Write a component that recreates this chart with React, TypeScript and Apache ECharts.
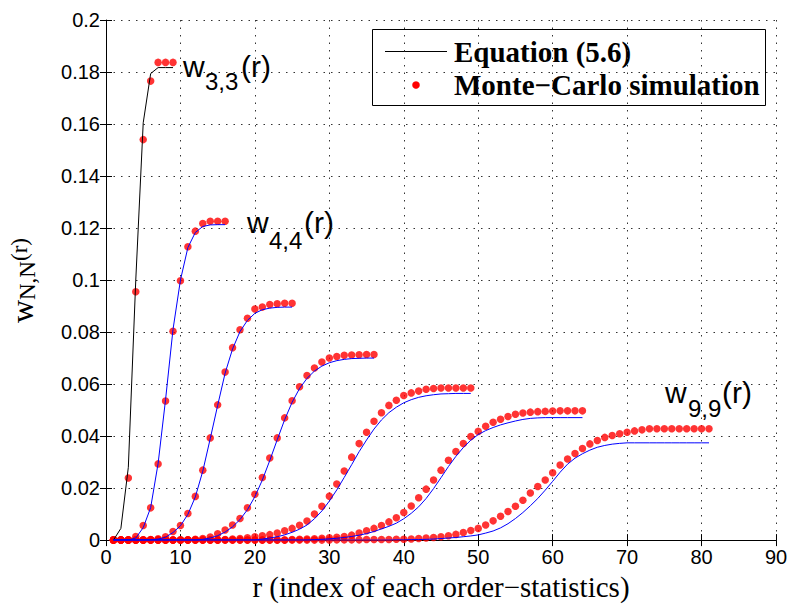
import React, { useEffect, useRef } from "react";
import * as echarts from "echarts";

// ---- data: theoretical curves (Equation 5.6) and Monte-Carlo simulation, r = 1..N^2 ----
const eq3 = [0, 0.0045, 0.028, 0.1, 0.1605, 0.1794, 0.1817, 0.1817, 0.1817];
const sim3 = [0, 0, 0.0239, 0.0955, 0.154, 0.1765, 0.1837, 0.1837, 0.1837];

const eq4 = [0, 0, 0, 0.0008, 0.0048, 0.0125, 0.0295, 0.054, 0.081, 0.1, 0.1125, 0.1183, 0.1206, 0.1212, 0.1213, 0.1213];
const sim4 = [0, 0, 0, 0.0014, 0.0056, 0.0124, 0.0293, 0.0535, 0.0803, 0.0997, 0.1128, 0.1188, 0.1217, 0.1226, 0.1226, 0.1226];

const eq5 = [0, 0, 0, 0, 0, 0.0001, 0.0004, 0.0011, 0.0029, 0.0055, 0.0099, 0.0166, 0.0265, 0.039, 0.0518, 0.0642, 0.0735, 0.0802, 0.0845, 0.0872, 0.0886, 0.0892, 0.0895, 0.0896, 0.0896];
const sim5 = [0, 0, 0, 0, 0, 0.0002, 0.0005, 0.0013, 0.0033, 0.0056, 0.0102, 0.0168, 0.0269, 0.0393, 0.052, 0.0646, 0.074, 0.0809, 0.0853, 0.0889, 0.0896, 0.0906, 0.0909, 0.0911, 0.0911];

const eq6 = [0, 0, 0, 0, 0, 0, 0, 0, 0, 0, 0, 0, 0.0003, 0.0008, 0.0017, 0.0031, 0.0051, 0.0079, 0.0117, 0.0167, 0.0231, 0.0306, 0.0386, 0.0463, 0.053, 0.0583, 0.0622, 0.065, 0.0669, 0.0682, 0.069, 0.0695, 0.0698, 0.0699, 0.07, 0.07];
const sim6 = [0, 0, 0, 0, 0, 0, 0, 0, 0, 0, 0.0001, 0.0003, 0.0006, 0.0012, 0.0024, 0.0039, 0.0058, 0.0083, 0.0124, 0.0176, 0.0241, 0.0316, 0.0393, 0.047, 0.0536, 0.059, 0.0633, 0.0662, 0.0685, 0.07, 0.0706, 0.0711, 0.0712, 0.0713, 0.0714, 0.0714];

const eq7 = [0, 0, 0, 0, 0, 0, 0, 0, 0, 0, 0, 0, 0, 0, 0, 0, 0, 0, 0, 0, 0.0004, 0.0008, 0.0013, 0.002, 0.003, 0.0042, 0.0058, 0.0082, 0.0112, 0.015, 0.0193, 0.0241, 0.029, 0.034, 0.0385, 0.0427, 0.0462, 0.049, 0.0511, 0.0528, 0.054, 0.0549, 0.0555, 0.0559, 0.0562, 0.0563, 0.0564, 0.0564, 0.0564];
const sim7 = [0, 0, 0, 0, 0, 0, 0, 0, 0, 0, 0, 0, 0, 0, 0, 0.0002, 0.0004, 0.0006, 0.0009, 0.0013, 0.0017, 0.0021, 0.0027, 0.0036, 0.0045, 0.0057, 0.0073, 0.01, 0.013, 0.0169, 0.0216, 0.0266, 0.0319, 0.0371, 0.0415, 0.0457, 0.049, 0.0518, 0.0538, 0.0556, 0.0566, 0.0573, 0.058, 0.0583, 0.0585, 0.0585, 0.0585, 0.0585, 0.0585];

const eq8 = [0, 0, 0, 0, 0, 0, 0, 0, 0, 0, 0, 0, 0, 0, 0, 0, 0, 0, 0, 0, 0, 0, 0, 0, 0, 0, 0, 0.0002, 0.0003, 0.0005, 0.0007, 0.001, 0.0014, 0.0019, 0.0025, 0.0033, 0.0043, 0.0053, 0.0065, 0.0082, 0.0103, 0.0128, 0.016, 0.0198, 0.024, 0.0283, 0.0322, 0.0356, 0.0384, 0.0406, 0.0421, 0.0433, 0.0443, 0.0451, 0.0458, 0.0464, 0.0468, 0.047, 0.0471, 0.0471, 0.0471, 0.0471, 0.0471, 0.0471];
const sim8 = [0, 0, 0, 0, 0, 0, 0, 0, 0, 0, 0, 0, 0, 0, 0, 0, 0, 0, 0, 0, 0, 0, 0, 0, 0.0002, 0.0003, 0.0004, 0.0005, 0.0007, 0.0009, 0.0011, 0.0014, 0.0019, 0.0027, 0.0036, 0.0045, 0.0056, 0.007, 0.0086, 0.0106, 0.0131, 0.0163, 0.0196, 0.0231, 0.0269, 0.0307, 0.0341, 0.0371, 0.0398, 0.0418, 0.0438, 0.0453, 0.0465, 0.0475, 0.0484, 0.0489, 0.0492, 0.0494, 0.0495, 0.0496, 0.0497, 0.0497, 0.0497, 0.0497];

const eq9 = [0, 0, 0, 0, 0, 0, 0, 0, 0, 0, 0, 0, 0, 0, 0, 0, 0, 0, 0, 0, 0, 0, 0, 0, 0, 0, 0, 0, 0, 0, 0, 0, 0, 0, 0, 0, 0, 0, 0.0001, 0.0001, 0.0002, 0.0002, 0.0003, 0.0004, 0.0006, 0.0008, 0.001, 0.0013, 0.0016, 0.002, 0.0027, 0.0035, 0.0047, 0.0063, 0.0083, 0.0106, 0.0132, 0.016, 0.0192, 0.0226, 0.0261, 0.0292, 0.0315, 0.0332, 0.0346, 0.0357, 0.0364, 0.0369, 0.0372, 0.0374, 0.0374, 0.0374, 0.0374, 0.0374, 0.0374, 0.0374, 0.0374, 0.0374, 0.0374, 0.0374, 0.0374];
const sim9 = [0, 0, 0, 0, 0, 0, 0, 0, 0, 0, 0, 0, 0, 0, 0, 0, 0, 0, 0, 0, 0, 0, 0, 0, 0, 0, 0, 0, 0, 0, 0.0001, 0.0001, 0.0001, 0.0001, 0.0002, 0.0002, 0.0002, 0.0002, 0.0003, 0.0003, 0.0004, 0.0006, 0.0008, 0.001, 0.0013, 0.0017, 0.0022, 0.0029, 0.0037, 0.0045, 0.0058, 0.0074, 0.0092, 0.011, 0.013, 0.0153, 0.0181, 0.0206, 0.0231, 0.0259, 0.0289, 0.0312, 0.0333, 0.0352, 0.037, 0.0383, 0.0395, 0.0402, 0.0409, 0.0415, 0.042, 0.0424, 0.0428, 0.0428, 0.0428, 0.0428, 0.0428, 0.0428, 0.0428, 0.0428, 0.0428];

const curveNs = [3, 4, 5, 6, 7, 8, 9];
const eqCurves = [eq3, eq4, eq5, eq6, eq7, eq8, eq9];
const simCurves = [sim3, sim4, sim5, sim6, sim7, sim8, sim9];

const legendNames = ["Equation (5.6)", "Monte\u2212Carlo simulation"];
const xTitle = "r (index of each order\u2212statistics)";

const toPairs = (arr: number[]) => arr.map((v, i) => [i + 1, v]);

const SANS = '"Liberation Sans", Arial, Helvetica, sans-serif';
const SERIF = '"Liberation Serif", "Times New Roman", serif';

function buildOption() {
  const series: any[] = [];
  curveNs.forEach((n, k) => {
    series.push({
      name: legendNames[1] + " N=" + n,
      type: "scatter",
      data: toPairs(simCurves[k]),
      symbol: "circle",
      symbolSize: 7.5,
      itemStyle: { color: "#ff0000" },
      z: 2,
    });
  });
  curveNs.forEach((n, k) => {
    series.push({
      name: legendNames[0] + " N=" + n,
      type: "line",
      data: toPairs(eqCurves[k]),
      showSymbol: false,
      symbol: "none",
      lineStyle: { color: n === 3 ? "#000000" : "#0000ff", width: 1 },
      z: 3,
    });
  });

  const gridLine = { show: true, lineStyle: { color: "#333", width: 1, type: [1.5, 6] as any } };

  const sub = (x: number, y: number, main: string, s: string, paren: number, subY: number, sx: number) => [
    { type: "text", x, y, style: { text: main, font: `30px ${SANS}`, fill: "#000", align: "left", verticalAlign: "middle", textAlign: "left", textVerticalAlign: "middle" } },
    { type: "text", x: sx, y: subY, style: { text: s, font: `24px ${SANS}`, fill: "#000", align: "left", verticalAlign: "middle", textAlign: "left", textVerticalAlign: "middle" } },
    { type: "text", x: paren, y, style: { text: "(r)", font: `30px ${SANS}`, fill: "#000", align: "left", verticalAlign: "middle", textAlign: "left", textVerticalAlign: "middle" } },
  ];

  const rotText = (x: number, y: number, text: string, size: number) => ({
    type: "text",
    x,
    y,
    rotation: Math.PI / 2,
    style: { text, font: `${size}px ${SERIF}`, fill: "#000", align: "left", verticalAlign: "middle", textAlign: "left", textVerticalAlign: "middle" },
  });

  const graphic: any[] = [
    ...sub(183, 66.5, "w", "3,3", 241, 81.7, 205),
    ...sub(247, 222.5, "w", "4,4", 304, 240.6, 269),
    ...sub(665, 392.5, "w", "9,9", 722, 408.6, 688),
    rotText(22, 323, "w", 32),
    rotText(27, 300, "N,N", 23),
    rotText(19, 261, "(r)", 23),
    {
      type: "group",
      z: 100,
      children: [
        { type: "rect", shape: { x: 372.5, y: 29.5, width: 393, height: 76 }, style: { fill: "#fff", stroke: "#000", lineWidth: 1 } },
        { type: "line", shape: { x1: 385, y1: 51.5, x2: 447, y2: 51.5 }, style: { stroke: "#000", lineWidth: 1 } },
        { type: "circle", shape: { cx: 416, cy: 85, r: 3.8 }, style: { fill: "#ff0000" } },
        { type: "text", x: 454, y: 51.8, style: { text: legendNames[0], font: `bold 29px ${SERIF}`, fill: "#000", align: "left", verticalAlign: "middle", textAlign: "left", textVerticalAlign: "middle" } },
        { type: "text", x: 454, y: 85, style: { text: legendNames[1], font: `bold 29px ${SERIF}`, fill: "#000", align: "left", verticalAlign: "middle", textAlign: "left", textVerticalAlign: "middle" } },
      ],
    },
  ];

  return {
    animation: false,
    backgroundColor: "#ffffff",
    grid: { left: 106, right: 15, top: 20, bottom: 59, containLabel: false },
    xAxis: [
      {
        type: "value",
        min: 0,
        max: 90,
        interval: 10,
        name: xTitle,
        nameLocation: "middle",
        nameGap: 27,
        nameTextStyle: { fontFamily: SERIF, fontSize: 29, color: "#000" },
        axisLine: { show: true, lineStyle: { color: "#000", width: 1 } },
        axisTick: { show: true, inside: true, length: 6, lineStyle: { color: "#000" } },
        axisLabel: { margin: 7, fontFamily: SANS, fontSize: 20, color: "#000" },
        splitLine: gridLine,
      },
      {
        type: "value",
        position: "top",
        min: 0,
        max: 90,
        interval: 10,
        axisLine: { show: false },
        axisTick: { show: true, inside: true, length: 6, lineStyle: { color: "#000" } },
        axisLabel: { show: false },
        splitLine: { show: false },
      },
    ],
    yAxis: [
      {
        type: "value",
        min: 0,
        max: 0.2,
        interval: 0.02,
        axisLine: { show: true, lineStyle: { color: "#000", width: 1 } },
        axisTick: { show: true, inside: true, length: 6, lineStyle: { color: "#000" } },
        axisLabel: {
          margin: 6,
          fontFamily: SANS,
          fontSize: 20,
          color: "#000",
          formatter: (v: number) => String(parseFloat(v.toFixed(3))),
        },
        splitLine: gridLine,
      },
      {
        type: "value",
        position: "right",
        min: 0,
        max: 0.2,
        interval: 0.02,
        axisLine: { show: false },
        axisTick: { show: true, inside: true, length: 6, lineStyle: { color: "#000" } },
        axisLabel: { show: false },
        splitLine: { show: false },
      },
    ],
    series,
    graphic,
  };
}

export default function App() {
  const ref = useRef<HTMLDivElement>(null);
  useEffect(() => {
    if (!ref.current) return;
    const chart = echarts.init(ref.current, undefined, { renderer: "svg" });
    chart.setOption(buildOption() as any);
    return () => chart.dispose();
  }, []);
  return <div ref={ref} style={{ position: "fixed", left: 0, top: 0, width: 791, height: 606, background: "#fff" }} />;
}
